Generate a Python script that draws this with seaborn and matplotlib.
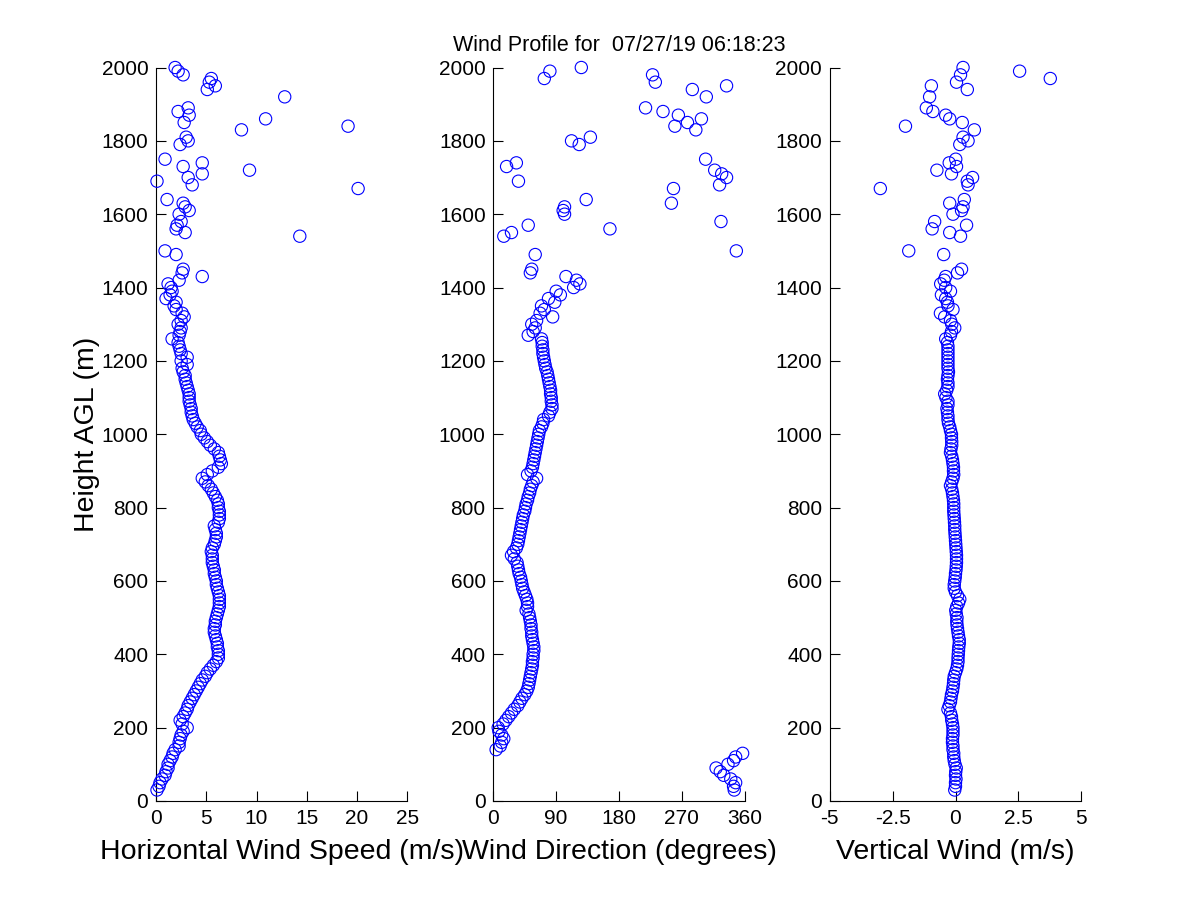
import matplotlib
matplotlib.use("Agg")
import matplotlib.pyplot as plt
import seaborn as sns
import pandas as pd

# range gates (m AGL) that have a valid retrieval
heights = [
    30, 40, 50, 60, 70, 80, 90, 100, 110, 120, 130, 140,
    150, 160, 170, 180, 190, 200, 210, 220, 230, 240, 250, 260, 270, 280, 290, 300,
    310, 320, 330, 340, 350, 360, 370, 380, 390, 400,
    410, 420, 430, 440, 450, 460, 470, 480, 490, 500,
    510, 520, 530, 540, 550, 560, 570, 580, 590, 600,
    610, 620, 630, 640, 650, 660, 670, 680, 690, 700,
    710, 720, 730, 740, 750, 760, 770, 780, 790, 800,
    810, 820, 830, 840, 850, 860, 870, 880, 890, 900,
    910, 920, 930, 940, 950, 960, 970, 980, 990, 1000,
    1010, 1020, 1030, 1040, 1050, 1060, 1070, 1080, 1090, 1100,
    1110, 1120, 1130, 1140, 1150, 1160, 1170, 1180, 1190, 1200,
    1210, 1220, 1230, 1240, 1250, 1260, 1270, 1280, 1290, 1300,
    1310, 1320, 1330, 1340, 1350, 1360, 1370, 1380, 1390, 1400,
    1410, 1420, 1430, 1440, 1450,
    1490, 1500, 1540, 1550, 1560, 1570, 1580, 1600, 1610, 1620,
    1630, 1640, 1670, 1680, 1690, 1700, 1710, 1720, 1730, 1740,
    1750, 1790, 1800, 1810, 1830, 1840, 1850, 1860, 1870, 1880,
    1890, 1920, 1940, 1950, 1960, 1970, 1980, 1990, 2000,
]

speed = [
    0.1, 0.3, 0.4, 0.6, 0.9, 1.0, 1.2, 1.2, 1.4, 1.6, 1.7, 1.9,
    2.3, 2.3, 2.4, 2.5, 2.7, 3.1, 2.6, 2.4, 2.7, 2.9, 3.1, 3.2, 3.4, 3.6, 3.8, 4.0,
    4.2, 4.4, 4.6, 4.9, 5.1, 5.4, 5.7, 6.0, 6.2, 6.2,
    6.2, 6.1, 6.1, 6.0, 5.9, 5.8, 5.8, 5.9, 5.9, 6.0,
    6.1, 6.2, 6.3, 6.3, 6.3, 6.3, 6.2, 6.1, 6.0, 6.0,
    5.9, 5.8, 5.8, 5.7, 5.6, 5.6, 5.6, 5.5, 5.6, 5.8,
    5.9, 6.0, 6.0, 5.9, 5.8, 6.2, 6.3, 6.3, 6.3, 6.2,
    6.2, 6.1, 5.9, 5.7, 5.5, 5.2, 4.9, 4.6, 5.1, 5.6,
    6.2, 6.5, 6.4, 6.3, 6.2, 5.8, 5.4, 5.1, 4.8, 4.5,
    4.4, 4.1, 3.9, 3.7, 3.6, 3.5, 3.5, 3.4, 3.3, 3.3,
    3.3, 3.2, 3.1, 3.0, 2.9, 2.9, 2.7, 2.6, 3.1, 2.5,
    3.1, 2.5, 2.4, 2.3, 2.2, 1.6, 2.3, 2.4, 2.5, 2.2,
    2.5, 2.8, 2.6, 2.0, 1.8, 2.0, 1.0, 1.4, 1.6, 1.5,
    1.2, 2.3, 4.6, 2.6, 2.7,
    2.0, 0.9, 14.3, 2.9, 2.0, 2.1, 2.5, 2.3, 3.3, 2.9,
    2.7, 1.1, 20.1, 3.6, 0.1, 3.2, 4.6, 9.3, 2.7, 4.6,
    0.9, 2.4, 3.2, 3.0, 8.5, 19.1, 2.8, 10.9, 3.3, 2.2,
    3.2, 12.8, 5.1, 5.9, 5.3, 5.5, 2.7, 2.2, 1.9,
]

direction = [
    345, 344, 347, 340, 330, 325, 319, 336, 344, 347, 357, 4,
    10, 12, 15, 12, 8, 7, 14, 18, 22, 26, 30, 35, 38, 41, 45, 48,
    50, 51, 52, 53, 54, 55, 56, 56, 57, 57,
    58, 58, 57, 56, 55, 55, 54, 54, 53, 52,
    51, 47, 49, 49, 48, 46, 44, 42, 41, 40,
    39, 37, 36, 35, 34, 30, 26, 29, 33, 35,
    36, 37, 38, 39, 40, 41, 42, 43, 45, 46,
    47, 49, 50, 52, 53, 55, 57, 62, 49, 54,
    56, 57, 58, 59, 60, 61, 62, 63, 64, 65,
    66, 69, 71, 72, 79, 81, 84, 84, 83, 83,
    82, 82, 81, 80, 79, 78, 77, 75, 74, 73,
    72, 71, 71, 70, 70, 69, 50, 57, 60, 55,
    62, 85, 67, 73, 69, 88, 79, 96, 90, 115,
    124, 119, 104, 53, 55,
    60, 348, 15, 26, 167, 50, 326, 102, 100, 102,
    255, 133, 258, 324, 36, 334, 327, 317, 19, 33,
    304, 123, 112, 139, 290, 260, 278, 298, 265, 243,
    218, 305, 285, 334, 232, 73, 228, 81, 126,
]

vertical = [
    -0.03, 0.0, 0.0, 0.02, 0.0, 0.01, 0.03, -0.02, -0.05, -0.07, -0.07, -0.1,
    -0.1, -0.12, -0.12, -0.1, -0.1, -0.1, -0.12, -0.15, -0.16, -0.2, -0.3, -0.25, -0.2, -0.18, -0.16, -0.12,
    -0.1, -0.08, -0.07, -0.05, 0.0, 0.05, 0.08, 0.1, 0.1, 0.11,
    0.12, 0.13, 0.15, 0.15, 0.12, 0.1, 0.08, 0.06, 0.05, 0.06,
    0.03, 0.01, 0.05, 0.12, 0.17, 0.08, 0.0, -0.05, -0.05, -0.03,
    -0.01, 0.0, 0.02, 0.03, 0.04, 0.04, 0.04, 0.03, 0.02, 0.01,
    0.0, -0.01, -0.02, -0.03, -0.03, -0.04, -0.05, -0.06, -0.07, -0.07,
    -0.07, -0.08, -0.1, -0.12, -0.15, -0.2, -0.15, -0.1, -0.07, -0.08,
    -0.08, -0.1, -0.12, -0.15, -0.2, -0.18, -0.15, -0.15, -0.16, -0.16,
    -0.2, -0.23, -0.28, -0.3, -0.3, -0.32, -0.34, -0.3, -0.3, -0.38,
    -0.43, -0.35, -0.3, -0.3, -0.32, -0.3, -0.28, -0.3, -0.3, -0.3,
    -0.3, -0.3, -0.3, -0.3, -0.32, -0.39, -0.2, -0.16, -0.03, -0.15,
    -0.2, -0.43, -0.6, -0.1, -0.3, -0.32, -0.39, -0.56, -0.2, -0.39,
    -0.59, -0.45, -0.39, 0.08, 0.24,
    -0.47, -1.86, 0.2, -0.23, -0.93, 0.44, -0.83, -0.1, 0.24, 0.3,
    -0.23, 0.35, -2.99, 0.5, 0.47, 0.68, -0.16, -0.74, 0.04, -0.25,
    0.01, 0.17, 0.5, 0.3, 0.75, -1.99, 0.27, -0.23, -0.39, -0.9,
    -1.16, -1.03, 0.47, -0.96, 0.04, 3.77, 0.2, 2.55, 0.3,
]

height_ticks = [0, 200, 400, 600, 800, 1000, 1200, 1400, 1600, 1800, 2000]
speed_ticks = [0, 5, 10, 15, 20, 25]
dir_ticks = [0, 90, 180, 270, 360]
vert_ticks = [-5, -2.5, 0, 2.5, 5]
vert_tick_labels = ['-5', '-2.5', '0', '2.5', '5']

title = 'Wind Profile for  07/27/19 06:18:23'

sns.set_style('ticks')
plt.rcParams['font.family'] = ['Liberation Sans', 'DejaVu Sans']
plt.rcParams['text.color'] = 'black'
plt.rcParams['axes.labelcolor'] = 'black'

df = pd.DataFrame({'height': heights, 'speed': speed,
                   'direction': direction, 'vertical': vertical})

fig = plt.figure(figsize=(12, 9), dpi=100)

panels = [
    (0.1300, 'speed', (0, 25), speed_ticks, None, 'Horizontal Wind Speed (m/s)'),
    (0.4111, 'direction', (0, 360), dir_ticks, None, 'Wind Direction (degrees)'),
    (0.6915, 'vertical', (-5, 5), vert_ticks, vert_tick_labels, 'Vertical Wind (m/s)'),
]

axes = []
for left, col, xlim, xticks, xlabels, xlabel in panels:
    ax = fig.add_axes([left, 0.11, 0.2095, 0.815])
    sns.scatterplot(data=df, x=col, y='height', ax=ax, marker='o', s=78,
                    facecolor='none', edgecolor='blue', linewidth=0.8,
                    clip_on=False, zorder=3)
    ax.set_xlim(*xlim)
    ax.set_ylim(0, 2000)
    ax.set_xticks(xticks)
    if xlabels is not None:
        ax.set_xticklabels(xlabels)
    ax.set_yticks(height_ticks)
    ax.set_xlabel(xlabel, fontsize=20.5, labelpad=8)
    ax.set_ylabel('')
    ax.tick_params(direction='in', length=7, width=0.8, labelsize=15,
                   pad=5.5, colors='black')
    for side in ['top', 'right']:
        ax.spines[side].set_visible(False)
    for side in ['left', 'bottom']:
        ax.spines[side].set_linewidth(0.8)
        ax.spines[side].set_color('black')
    axes.append(ax)

axes[0].set_ylabel('Height AGL (m)', fontsize=20.5, labelpad=1)
axes[1].set_title(title, fontsize=15.5, pad=12)

plt.savefig('out.png', dpi=100)
